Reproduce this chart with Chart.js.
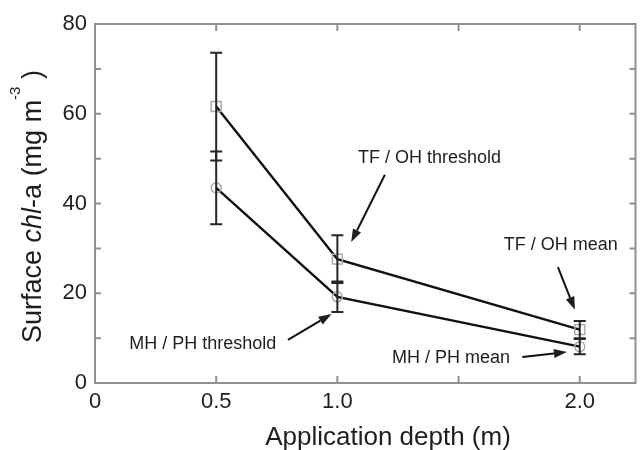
<!DOCTYPE html>
<html>
<head>
<meta charset="utf-8">
<script src="https://cdn.jsdelivr.net/npm/chart.js@4/dist/chart.umd.min.js"></script>
<style>
  html, body { margin: 0; padding: 0; background: #fff; }
  #wrap { width: 644px; height: 450px; position: relative; }
</style>
</head>
<body>
<div id="wrap"><canvas id="plot"></canvas></div>
<script>
const depths = [0.5, 1.0, 2.0];
const tfohMean = [61.6, 27.6, 11.9];
const tfohErr = [12.0, 5.3, 1.9];
const mhphMean = [43.5, 19.2, 8.1];
const mhphErr = [8.1, 3.4, 1.7];

const xTickValues = [0, 0.5, 1.0, 1.5, 2.0];
const xTickLabels = ['0', '0.5', '1.0', '', '2.0'];
const yTickValues = [0, 10, 20, 30, 40, 50, 60, 70, 80];
const yTickLabels = ['0', '', '20', '', '40', '', '60', '', '80'];

const xTitle = 'Application depth (m)';

// callout labels, placed in data units
const notes = [
    {text: 'TF / OH threshold', x: 1.38, y: 49.0, from: [1.196, 46.4], to: [1.057, 31.4]},
    {text: 'TF / OH mean', x: 1.922, y: 29.7, from: [1.91, 25.8], to: [1.98, 16.3]},
    {text: 'MH / PH threshold', x: 0.445, y: 7.6, from: [0.796, 9.6], to: [0.976, 15.4]},
    {text: 'MH / PH mean', x: 1.469, y: 4.5, from: [1.763, 5.8], to: [1.947, 6.9]}
];

const FONT = '"Liberation Sans", Arial, sans-serif';

function drawArrow(ctx, x1, y1, x2, y2) {
    const ang = Math.atan2(y2 - y1, x2 - x1);
    const len = 13, half = 4.5;
    const bx = x2 - len * Math.cos(ang), by = y2 - len * Math.sin(ang);
    ctx.beginPath();
    ctx.moveTo(x1, y1);
    ctx.lineTo(bx, by);
    ctx.stroke();
    ctx.beginPath();
    ctx.moveTo(x2, y2);
    ctx.lineTo(bx + half * Math.sin(ang), by - half * Math.cos(ang));
    ctx.lineTo(bx - half * Math.sin(ang), by + half * Math.cos(ang));
    ctx.closePath();
    ctx.fill();
}

const framePlugin = {
    id: 'frame',
    beforeDatasetsDraw(chart) {
        const {ctx, chartArea: a, scales: {x, y}} = chart;
        ctx.save();
        ctx.strokeStyle = '#8f8f8f';
        ctx.lineWidth = 2;
        ctx.strokeRect(a.left, a.top, a.right - a.left, a.bottom - a.top);
        ctx.beginPath();
        x.ticks.forEach(t => {
            const px = x.getPixelForValue(t.value);
            if (Math.abs(px - a.left) < 2) return;
            ctx.moveTo(px, a.bottom); ctx.lineTo(px, a.bottom - 7);
            ctx.moveTo(px, a.top); ctx.lineTo(px, a.top + 7);
        });
        y.ticks.forEach(t => {
            const py = y.getPixelForValue(t.value);
            if (Math.abs(py - a.bottom) < 2 || Math.abs(py - a.top) < 2) return;
            ctx.moveTo(a.left, py); ctx.lineTo(a.left + 6, py);
            ctx.moveTo(a.right, py); ctx.lineTo(a.right - 6, py);
        });
        ctx.stroke();
        ctx.restore();
    },
    afterDatasetsDraw(chart) {
        const {ctx, chartArea: a, scales: {x, y}} = chart;
        ctx.save();
        // error bars
        ctx.strokeStyle = '#262626';
        ctx.lineWidth = 2;
        const bars = [[tfohMean, tfohErr], [mhphMean, mhphErr]];
        bars.forEach(([m, e]) => {
            depths.forEach((d, i) => {
                const px = x.getPixelForValue(d);
                const hi = y.getPixelForValue(m[i] + e[i]);
                const lo = y.getPixelForValue(m[i] - e[i]);
                ctx.beginPath();
                ctx.moveTo(px, hi); ctx.lineTo(px, lo);
                ctx.moveTo(px - 6, hi); ctx.lineTo(px + 6, hi);
                ctx.moveTo(px - 6, lo); ctx.lineTo(px + 6, lo);
                ctx.stroke();
            });
        });
        // callouts
        ctx.fillStyle = '#1e1e1e';
        ctx.strokeStyle = '#111';
        ctx.lineWidth = 2;
        ctx.font = '18px ' + FONT;
        ctx.textAlign = 'center';
        ctx.textBaseline = 'alphabetic';
        notes.forEach(n => {
            ctx.fillText(n.text, x.getPixelForValue(n.x), y.getPixelForValue(n.y));
            drawArrow(ctx,
                x.getPixelForValue(n.from[0]), y.getPixelForValue(n.from[1]),
                x.getPixelForValue(n.to[0]), y.getPixelForValue(n.to[1]));
        });
        // x axis title (sits a bit right of the frame centre, as in the figure)
        ctx.font = '26px ' + FONT;
        ctx.fillText(xTitle, a.left + 293, a.bottom + 62);
        // y axis title with italic and superscript parts
        const runs = [
            {t: 'Surface ', f: '27px ' + FONT, dy: 0},
            {t: 'chl', f: 'italic 27px ' + FONT, dy: 0},
            {t: '-a (mg m', f: '27px ' + FONT, dy: 0},
            {t: '-3', f: '15px ' + FONT, dy: -21},
            {t: ' )', f: '27px ' + FONT, dy: 0}
        ];
        let total = 0;
        runs.forEach(r => { ctx.font = r.f; r.w = ctx.measureText(r.t).width; total += r.w; });
        ctx.translate(41, (a.top + a.bottom) / 2 + 3);
        ctx.rotate(-Math.PI / 2);
        ctx.textAlign = 'left';
        ctx.textBaseline = 'alphabetic';
        let cx = -total / 2;
        runs.forEach(r => {
            ctx.font = r.f;
            ctx.fillText(r.t, cx, r.dy);
            cx += r.w;
        });
        ctx.restore();
    }
};

const data = {
    datasets: [
        {
            label: 'TF / OH',
            data: depths.map((d, i) => ({x: d, y: tfohMean[i]})),
            borderColor: '#111',
            borderWidth: 2.4,
            pointStyle: 'rect',
            pointRadius: 7,
            pointBorderColor: '#ababab',
            pointBackgroundColor: 'rgba(0,0,0,0)',
            pointBorderWidth: 1.5
        },
        {
            label: 'MH / PH',
            data: depths.map((d, i) => ({x: d, y: mhphMean[i]})),
            borderColor: '#111',
            borderWidth: 2.4,
            pointStyle: 'circle',
            pointRadius: 5,
            pointBorderColor: '#ababab',
            pointBackgroundColor: 'rgba(0,0,0,0)',
            pointBorderWidth: 1.5
        }
    ]
};

const config = {
    type: 'line',
    data: data,
    options: {
        responsive: true,
        maintainAspectRatio: false,
        animation: false,
        layout: {padding: {top: 24, right: 2, left: 0, bottom: 0}},
        plugins: {
            legend: {display: false},
            tooltip: {enabled: false}
        },
        scales: {
            x: {
                type: 'linear',
                min: 0,
                max: 2.23,
                afterBuildTicks: s => { s.ticks = xTickValues.map(v => ({value: v})); },
                afterFit: s => { s.height = 67; },
                grid: {display: false, drawTicks: false},
                border: {display: false},
                ticks: {
                    callback: (v, i) => xTickLabels[i],
                    font: {family: FONT, size: 22},
                    color: '#1e1e1e',
                    padding: 6,
                    maxRotation: 0,
                    autoSkip: false
                },
                title: {display: false}
            },
            y: {
                min: 0,
                max: 80,
                afterBuildTicks: s => { s.ticks = yTickValues.map(v => ({value: v})); },
                afterFit: s => { s.width = 95; },
                grid: {display: false, drawTicks: false},
                border: {display: false},
                ticks: {
                    callback: (v, i) => yTickLabels[i],
                    font: {family: FONT, size: 22},
                    color: '#1e1e1e',
                    padding: 8,
                    autoSkip: false
                }
            }
        }
    },
    plugins: [framePlugin]
};

new Chart(document.getElementById('plot'), config);
</script>
</body>
</html>
